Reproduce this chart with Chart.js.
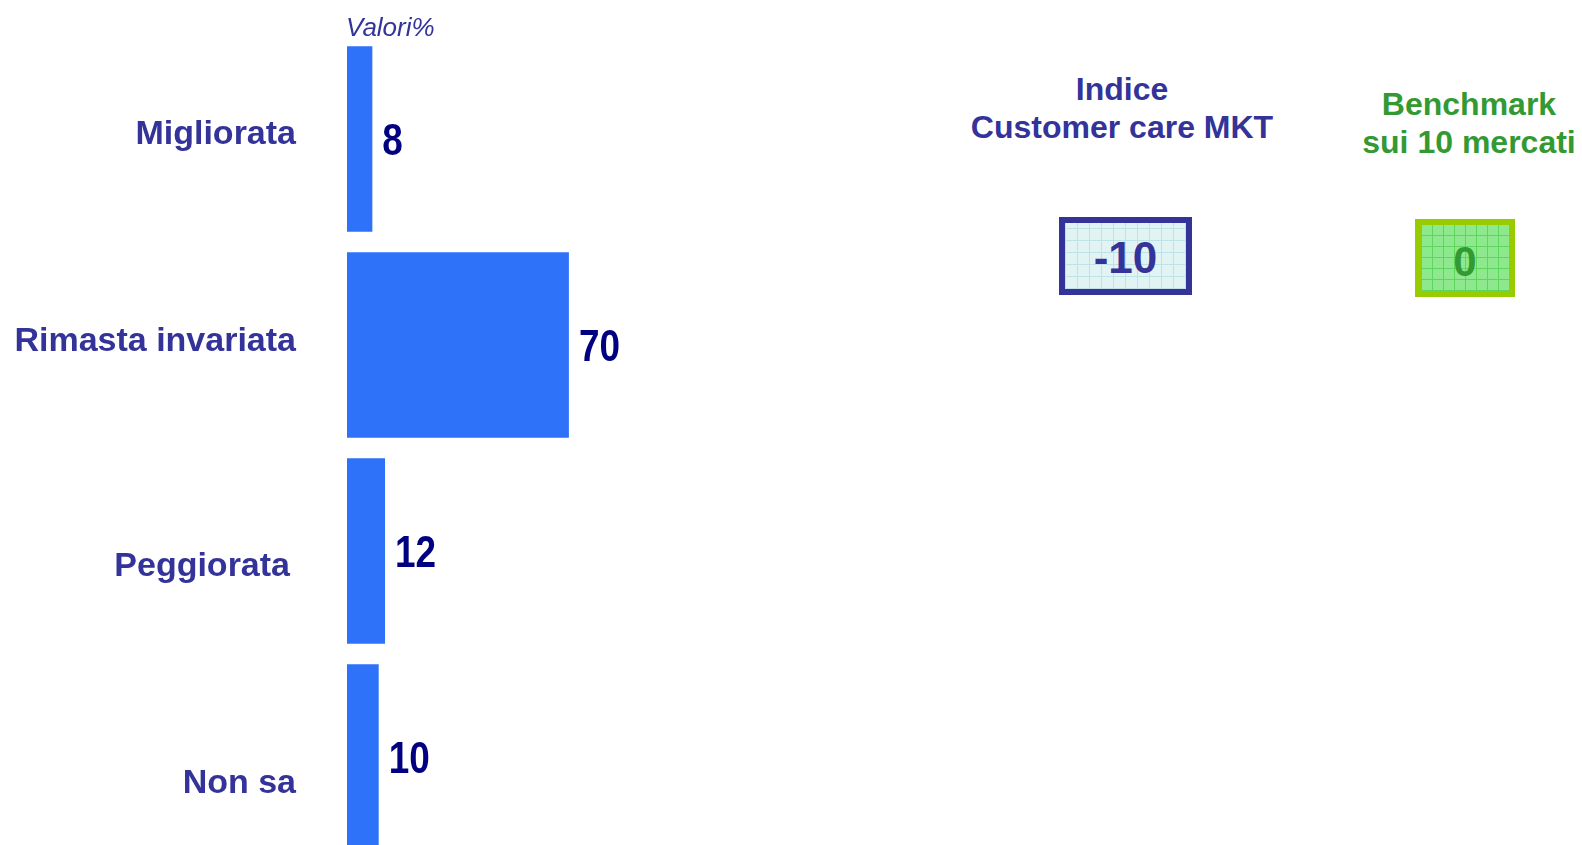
<!DOCTYPE html>
<html lang="it">
<head>
<meta charset="UTF-8">
<title>Customer care MKT</title>
<script src="https://cdn.jsdelivr.net/npm/chart.js@4.4.1/dist/chart.umd.min.js"></script>
<style>
body {
	margin: 0;
	background: #ffffff;
	overflow: hidden;
	width: 1582px;
	height: 845px;
	position: relative;
	font-family: "Liberation Sans", Arial, sans-serif;
}
#chartBox {
	position: absolute;
	left: 0;
	top: 0;
	width: 700px;
	height: 880px;
}
#unit {
	position: absolute;
	left: 346px;
	top: 12px;
	font-size: 26px;
	font-style: italic;
	color: #333399;
}
.title {
	position: absolute;
	font-weight: bold;
	font-size: 32px;
	line-height: 38px;
	text-align: center;
	width: 400px;
}
#title1 { left: 922px; top: 70px; color: #333399; }
#title2 { left: 1269px; top: 85px; color: #339933; }
.box {
	position: absolute;
	box-sizing: border-box;
	height: 78px;
	border-width: 6px;
	border-style: solid;
	font-weight: bold;
	text-align: center;
	line-height: 70px;
}
#box1 {
	left: 1059px; top: 217px; width: 133px;
	border-color: #333399;
	color: #333399;
	font-size: 44px;
	background-color: #e2f3f4;
	background-image:
		repeating-linear-gradient(0deg, #bfe2e8 0 1px, transparent 1px 12px),
		repeating-linear-gradient(90deg, #bfe2e8 0 1px, transparent 1px 12px);
}
#box2 {
	left: 1415px; top: 219px; width: 100px;
	border-color: #99cc00;
	color: #339933;
	font-size: 42px;
	line-height: 74px;
	background-color: #8ee88e;
	background-image:
		repeating-linear-gradient(0deg, #5ed65e 0 1px, transparent 1px 11px),
		repeating-linear-gradient(90deg, #5ed65e 0 1px, transparent 1px 11px);
}
</style>
</head>
<body>
	<div id="chartBox"><canvas id="chart"></canvas></div>
	<div id="unit">Valori%</div>
	<div class="title" id="title1"></div>
	<div class="title" id="title2"></div>
	<div class="box" id="box1"></div>
	<div class="box" id="box2"></div>

	<script type="text/javascript">

	// valori
	const categories = ['Migliorata', 'Rimasta invariata', 'Peggiorata', 'Non sa'];
	const values = [8, 70, 12, 10];
	const indexTitles = [['Indice', 'Customer care MKT'], ['Benchmark', 'sui 10 mercati']];
	const indexValues = [-10, 0];

	document.getElementById('title1').innerHTML = indexTitles[0].join('<br>');
	document.getElementById('title2').innerHTML = indexTitles[1].join('<br>');
	document.getElementById('box1').textContent = indexValues[0];
	document.getElementById('box2').textContent = indexValues[1];

	// etichette categorie e valori
	const labelPlugin = {
		id: 'labels',
		afterDatasetsDraw(chart, args, opts) {
			const ctx = chart.ctx;
			const meta = chart.getDatasetMeta(0);
			const yScale = chart.scales.y;
			ctx.save();
			ctx.textBaseline = 'middle';
			categories.forEach((cat, i) => {
				const y = yScale.getPixelForValue(i);
				ctx.font = 'bold 34px "Liberation Sans", Arial, sans-serif';
				ctx.fillStyle = '#333399';
				ctx.textAlign = 'right';
				ctx.fillText(cat, chart.chartArea.left - 51 + opts.dx[i], y + opts.dy[i]);

				// numeri stretti, come nell'originale
				const bar = meta.data[i];
				ctx.save();
				ctx.translate(bar.x + 10, bar.y + 4);
				ctx.scale(0.82, 1);
				ctx.font = 'bold 45px "Liberation Sans", Arial, sans-serif';
				ctx.fillStyle = '#000080';
				ctx.textAlign = 'left';
				ctx.fillText(values[i], 0, 0);
				ctx.restore();
			});
			ctx.restore();
		}
	};

	const data = {
		labels: categories,
		datasets: [{
			data: values,
			backgroundColor: '#2e72fa',
			borderWidth: 0,
			barPercentage: 0.9,
			categoryPercentage: 1.0
		}]
	};

	const config = {
		type: 'bar',
		data,
		options: {
			indexAxis: 'y',
			responsive: true,
			maintainAspectRatio: false,
			animation: false,
			layout: { padding: { left: 347, right: 36, top: 36, bottom: 20 } },
			scales: {
				x: { display: false, min: 0, max: 100 },
				y: { display: false }
			},
			plugins: {
				legend: { display: false },
				tooltip: { enabled: false },
				labels: { dy: [-4, -3, 16, 27], dx: [0, 0, -6, 0] }
			}
		},
		plugins: [labelPlugin]
	};

	var myChart = new Chart(document.getElementById('chart'), config);

	</script>
</body>
</html>
